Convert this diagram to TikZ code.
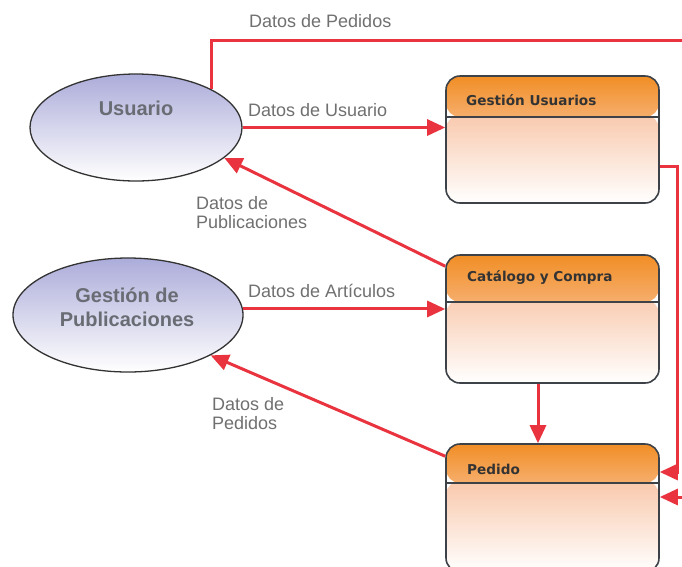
\documentclass[tikz,border=0pt]{standalone}
\usepackage{fontspec}
\setmainfont{Liberation Sans}
\newfontfamily\titlefont{DejaVu Sans}
\usetikzlibrary{shapes.geometric,arrows.meta,calc}
\definecolor{flowred}{RGB}{233,52,64}
\definecolor{lblgray}{RGB}{112,112,112}
\definecolor{ellgray}{RGB}{105,108,115}
\definecolor{lav}{RGB}{172,172,218}
\definecolor{hdrtop}{RGB}{241,142,38}
\definecolor{hdrbot}{RGB}{246,174,108}
\definecolor{peach}{RGB}{246,178,138}
\definecolor{boxedge}{RGB}{60,66,72}
\begin{document}
\begin{tikzpicture}[x=1pt,y=-1pt,
 flow/.style={draw=flowred,line width=3pt,-{Triangle[length=18pt,width=16pt]}},
 flowline/.style={draw=flowred,line width=3pt},
 lbl/.style={font=\fontsize{18}{19}\selectfont,text=lblgray,inner sep=0pt,anchor=west,align=left},
 entity/.style={ellipse,draw=black!80,line width=1.3pt,top color=lav,bottom color=white,inner sep=0pt},
 enttext/.style={font=\fontsize{20}{24}\selectfont\bfseries,text=ellgray,align=center,inner sep=0pt},
 procbox/.style={rectangle,rounded corners=14pt,draw=boxedge,line width=1.6pt,minimum width=213pt,inner sep=0pt,
   path picture={
     \shade[top color=peach,bottom color=white] ([yshift=-#1pt+2pt]path picture bounding box.north west) rectangle (path picture bounding box.south east);
     \shade[top color=hdrtop,bottom color=hdrbot] (path picture bounding box.north west) rectangle ([yshift=-#1pt]path picture bounding box.north east);
     \draw[boxedge,line width=1.4pt] ([yshift=-#1pt]path picture bounding box.north west) -- ([yshift=-#1pt]path picture bounding box.north east);
   }},
 ptitle/.style={font=\titlefont\bfseries\fontsize{13.6}{16}\selectfont,text=black!80,inner sep=0pt,anchor=west}
]
\fill[white] (0,0) rectangle (682,566);
\useasboundingbox (0,0) rectangle (682,566);

% entities
\node[entity,minimum width=212pt,minimum height=107pt] (usuario) at (136,127.5) {};
\node[enttext] (usuarioT) at (136,108) {Usuario};
\node[entity,minimum width=230pt,minimum height=114pt] (gp) at (128,315) {};
\node[enttext] (gpT) at (127,307) {Gestión de\\Publicaciones};

% processes
\node[procbox=41,minimum height=127pt] (gu) at (552.5,139.5) {};
\node[ptitle] (guT) at (466,100) {Gestión Usuarios};
\node[procbox=47,minimum height=128pt] (cat) at (552.5,319) {};
\node[ptitle] (catT) at (467,278) {Catálogo y Compra};
\node[procbox=39,minimum height=128pt] (pedido) at (552.5,508) {};
\node[ptitle] (pedT) at (467,469) {Pedido};

% connectors
\coordinate (topR) at (682,40);
\coordinate (botR) at (682,497);
\draw[flowline] (usuario.27) |- (topR);
\draw[flow] (usuario.east) -- (usuario.east -| gu.west);
\draw[flow] ([yshift=-26.5pt]gu.east) -- ++(18,0) |- ([yshift=36pt]pedido.east);
\draw[flow] (botR) -- (botR -| pedido.east);
\draw[flow] ([xshift=-14.5pt]cat.south) -- ([xshift=-14.5pt]cat.south |- pedido.north);
\draw[flow] ([yshift=-12pt]cat.north west) -- (usuario.-19);
\draw[flow] (gp.3) -- (gp.3 -| cat.west);
\draw[flow] ([yshift=-13pt]pedido.north west) -- (gp.-26);

% labels
\node[lbl] (l1) at (249,21) {Datos de Pedidos};
\node[lbl] (l2) at (248,110) {Datos de Usuario};
\node[lbl] (l3) at (196,212.5) {Datos de\\Publicaciones};
\node[lbl] (l4) at (248,291) {Datos de Artículos};
\node[lbl] (l5) at (212,414) {Datos de\\Pedidos};
\end{tikzpicture}
\end{document}
